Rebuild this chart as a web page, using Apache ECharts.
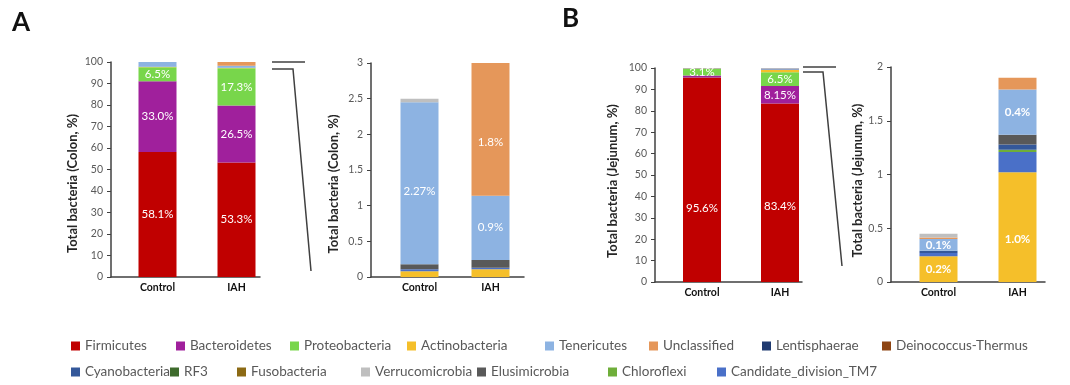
<!DOCTYPE html>
<html>
<head>
<meta charset="utf-8">
<script src="https://cdn.jsdelivr.net/npm/echarts@6/dist/echarts.min.js"></script>
<style>html,body{margin:0;padding:0;background:#fff;}#c{width:1070px;height:385px;}</style>
</head>
<body>
<div id="c"></div>
<script>
// ---------- DATA ----------
const categories = ['Control', 'IAH'];
// stack order, bottom to top
const phyla = ['Firmicutes', 'Bacteroidetes', 'Proteobacteria', 'Actinobacteria', 'Candidate_division_TM7',
  'Chloroflexi', 'Cyanobacteria', 'Elusimicrobia', 'Tenericutes', 'Unclassified', 'Verrucomicrobia',
  'Lentisphaerae', 'Deinococcus-Thermus', 'RF3', 'Fusobacteria'];
const phylumColors = ['#C00000', '#A0209C', '#78D64B', '#F5BF2A', '#4A70C8',
  '#6FAE3A', '#34589A', '#595959', '#8DB3E2', '#E5975A', '#BFBFBF',
  '#1F3A70', '#8E4513', '#3E6B2C', '#8C6A14'];
// relative abundance (%) per phylum, same order as phyla
const colonControl   = [58.1, 33.0, 6.5, 0.08, 0.03, 0, 0, 0.07, 2.27, 0, 0.05, 0, 0, 0, 0];
const colonIAH       = [53.3, 26.5, 17.3, 0.11, 0.02, 0, 0, 0.11, 0.90, 1.86, 0, 0, 0, 0, 0];
const jejunumControl = [95.6, 0.85, 3.1, 0.24, 0.03, 0, 0.02, 0, 0.11, 0.015, 0.035, 0, 0, 0, 0];
const jejunumIAH     = [83.4, 8.15, 6.5, 1.02, 0.19, 0.02, 0.05, 0.09, 0.42, 0.11, 0, 0, 0, 0, 0];
// bar label texts [Control, IAH]
const colonMainLabels    = { Firmicutes: ['58.1%', '53.3%'], Bacteroidetes: ['33.0%', '26.5%'], Proteobacteria: ['6.5%', '17.3%'] };
const colonZoomLabels    = { Tenericutes: ['2.27%', '0.9%'], Unclassified: ['', '1.8%'] };
const jejunumMainLabels  = { Firmicutes: ['95.6%', '83.4%'], Bacteroidetes: ['', '8.15%'], Proteobacteria: ['3.1%', '6.5%'] };
const jejunumZoomLabels  = { Actinobacteria: ['0.2%', '1.0%'], Tenericutes: ['0.1%', '0.4%'] };

// ---------- LAYOUT ----------
const FONT = 'Lato';
const panels = [
  { control: colonControl, iah: colonIAH, from: 0, max: 100, interval: 10, name: 'Total bacteria (Colon, %)',
    labels: colonMainLabels, axisBox: { left: 111, top: 62, width: 149, height: 215 }, barBox: { left: 118, width: 158 },
    nameGap: 32, namePad: 28, labelWeight: 'normal', offsets: {} },
  { control: colonControl, iah: colonIAH, from: 3, max: 3, interval: 0.5, name: 'Total bacteria (Colon, %)',
    labels: colonZoomLabels, axisBox: { left: 371, top: 63, width: 153, height: 214 }, barBox: { left: 384, width: 142 },
    nameGap: 31, namePad: 28, labelWeight: 'normal', offsets: { Tenericutes: [[0, 8], [0, 0]], Unclassified: [[0, 0], [0, 13]] } },
  { control: jejunumControl, iah: jejunumIAH, from: 0, max: 100, interval: 10, name: 'Total bacteria (Jejunum, %)',
    labels: jejunumMainLabels, axisBox: { left: 655, top: 68, width: 147, height: 214 }, barBox: { left: 663, width: 156 },
    nameGap: 36, namePad: 12, labelWeight: 'normal', offsets: { Firmicutes: [[0, 29], [0, 14]] } },
  { control: jejunumControl, iah: jejunumIAH, from: 3, max: 2, interval: 0.5, name: 'Total bacteria (Jejunum, %)',
    labels: jejunumZoomLabels, axisBox: { left: 891, top: 67, width: 154, height: 215 }, barBox: { left: 899, width: 158 },
    nameGap: 24, namePad: 12, labelWeight: 'bold', offsets: { Actinobacteria: [[0, 0], [0, 12]] } }
];
const legendLayout = [
  ['Firmicutes', 71, 339], ['Bacteroidetes', 176, 339], ['Proteobacteria', 290, 339], ['Actinobacteria', 407, 339],
  ['Tenericutes', 545, 339], ['Unclassified', 649, 339], ['Lentisphaerae', 762, 339], ['Deinococcus-Thermus', 882, 339],
  ['Cyanobacteria', 71, 365], ['RF3', 170, 365], ['Fusobacteria', 237, 365], ['Verrucomicrobia', 361, 365],
  ['Elusimicrobia', 477, 365], ['Chloroflexi', 608, 365], ['Candidate_division_TM7', 717, 365]
];

const AX = '#404040';
const grid = [], xAxis = [], yAxis = [], series = [];
panels.forEach((p, pi) => {
  const a = p.axisBox;
  grid.push({ left: a.left, top: a.top, width: a.width, height: a.height });
  grid.push({ left: p.barBox.left, top: a.top, width: p.barBox.width, height: a.height });
  const ga = pi * 2, gb = pi * 2 + 1;
  xAxis.push({ type: 'category', gridIndex: ga, data: categories,
    axisLine: { show: true, lineStyle: { color: AX, width: 1.5 } }, axisTick: { show: false }, axisLabel: { show: false } });
  xAxis.push({ type: 'category', gridIndex: gb, data: categories,
    axisLine: { show: false }, axisTick: { show: false },
    axisLabel: { show: true, fontFamily: FONT, fontWeight: 'bold', fontSize: 10.5, color: '#111', margin: 5 } });
  yAxis.push({ type: 'value', gridIndex: ga, min: 0, max: p.max, interval: p.interval,
    axisLine: { show: true, lineStyle: { color: AX, width: 1.5 } },
    axisTick: { show: true, length: 4, lineStyle: { color: AX } },
    axisLabel: { fontFamily: FONT, fontSize: 10.5, color: '#595959', margin: 8 },
    splitLine: { show: false },
    name: p.name, nameLocation: 'middle', nameGap: p.nameGap,
    nameTextStyle: { fontFamily: FONT, fontWeight: 'bold', fontSize: 13, color: '#262626', padding: [0, p.namePad, 0, 0] } });
  yAxis.push({ type: 'value', gridIndex: gb, min: 0, max: p.max, show: false, splitLine: { show: false } });
  phyla.forEach((name, j) => {
    if (j < p.from) return;
    const vals = [p.control[j], p.iah[j]];
    const lbl = p.labels[name];
    const off = p.offsets[name];
    series.push({
      type: 'bar', name: name, stack: 's' + pi, xAxisIndex: gb, yAxisIndex: gb, barWidth: 38,
      itemStyle: { color: phylumColors[j] },
      label: { position: 'inside', color: '#fff', fontSize: 11.5, fontFamily: FONT, fontWeight: p.labelWeight },
      data: vals.map((v, k) => ({
        value: v,
        label: (lbl && lbl[k]) ? { show: true, formatter: lbl[k], offset: off ? off[k] : [0, 0] } : { show: false }
      }))
    });
  });
});

const legend = legendLayout.map(([name, left, top]) => ({
  data: [name], left: left, top: top, padding: 0, itemWidth: 9, itemHeight: 9, itemGap: 0, icon: 'rect',
  textStyle: { fontFamily: FONT, fontSize: 13.5, color: '#595959' }
}));

const lineStyle = { stroke: AX, lineWidth: 1.5, fill: null };
const graphic = [
  { type: 'text', left: 12, top: 10, style: { text: 'A', font: 'bold 26px Lato', fill: '#111' } },
  { type: 'text', left: 562, top: 6, style: { text: 'B', font: 'bold 26px Lato', fill: '#111' } },
  { type: 'line', shape: { x1: 272, y1: 62, x2: 305, y2: 62 }, style: lineStyle },
  { type: 'polyline', shape: { points: [[272, 69], [293, 69], [311, 271]] }, style: lineStyle },
  { type: 'line', shape: { x1: 803, y1: 67, x2: 836, y2: 67 }, style: lineStyle },
  { type: 'polyline', shape: { points: [[803, 72], [823, 72], [842, 266]] }, style: lineStyle }
];

const chart = echarts.init(document.getElementById('c'), null, { renderer: 'canvas' });
chart.setOption({
  animation: false,
  backgroundColor: '#fff',
  grid, xAxis, yAxis, series, legend, graphic
});
</script>
</body>
</html>
